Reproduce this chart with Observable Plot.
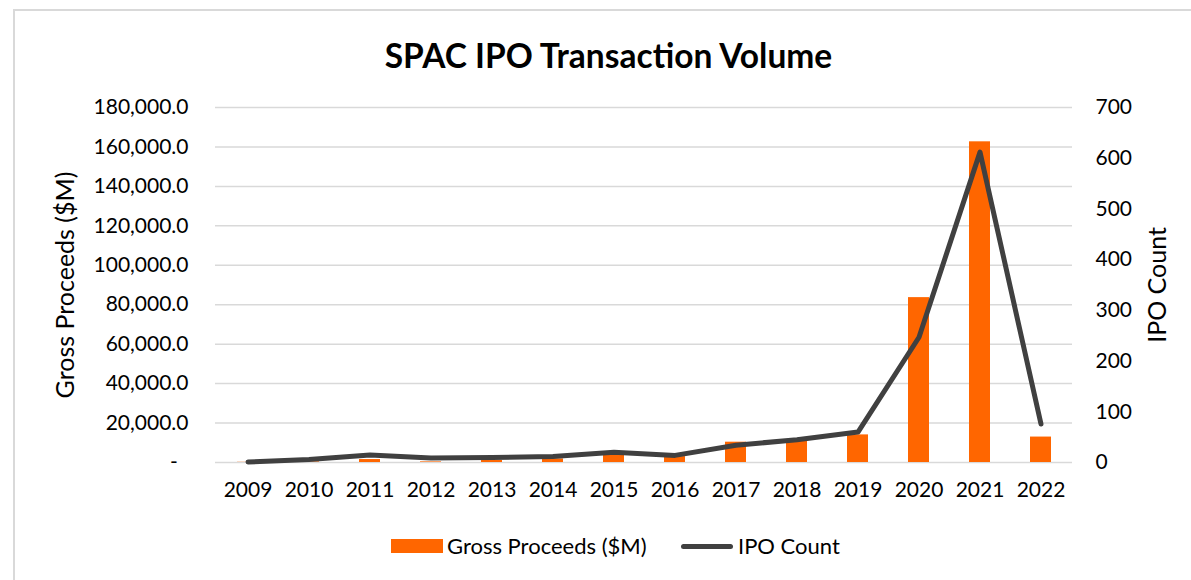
<!DOCTYPE html>
<html>
<head>
<meta charset="utf-8">
<script src="https://cdn.jsdelivr.net/npm/d3@7"></script>
<script src="https://cdn.jsdelivr.net/npm/@observablehq/plot@0.6"></script>
<style>
  html, body { margin: 0; padding: 0; background: #fff; }
  #wrap { position: relative; width: 1191px; height: 580px; overflow: hidden; font-family: Lato, "Noto Sans", sans-serif; color: #000; }
  #frame { position: absolute; left: 13px; top: 9px; width: 1300px; height: 700px; border: 2px solid #d9d9d9; box-sizing: border-box; }
  #title { position: relative; height: 90px; box-sizing: border-box; padding-left: 26px; padding-top: 37px; line-height: 36px; text-align: center; font-weight: 700; font-size: 33.5px; }
  #chart { position: relative; height: 430px; }
  #chart svg { display: block; }
  #legend { position: relative; height: 60px; font-size: 22px; }
  #legend .sw { position: absolute; }
  #legend .lb { position: absolute; top: 26px; transform: translateY(-50%); white-space: nowrap; line-height: 1; }
</style>
</head>
<body>
<div id="wrap">
  <div id="frame"></div>
  <div id="title">SPAC IPO Transaction Volume</div>
  <div id="chart"></div>
  <div id="legend">
    <div class="sw" style="left:391px; top:19px; width:52px; height:14px; background:#ff6600;"></div>
    <div class="lb" style="left:447px;">Gross Proceeds ($M)</div>
    <div class="sw" style="left:681px; top:24px; width:52px; height:5px; background:#404040; border-radius:3px;"></div>
    <div class="lb" style="left:738px;">IPO Count</div>
  </div>
</div>
<script>
const years = ["2009","2010","2011","2012","2013","2014","2015","2016","2017","2018","2019","2020","2021","2022"];
const proceeds = [100, 300, 1500, 300, 1000, 1800, 3600, 3000, 10300, 10700, 14000, 83600, 162600, 12900];
const ipoCount = [1, 6, 15, 9, 10, 12, 20, 14, 34, 45, 60, 247, 612, 76];
const leftTicks = [0, 20000, 40000, 60000, 80000, 100000, 120000, 140000, 160000, 180000];
const rightTicks = [0, 100, 200, 300, 400, 500, 600, 700];
const leftMax = 180000;
const rightMax = 700;
const k = leftMax / rightMax;

const data = years.map((year, i) => ({year, proceeds: proceeds[i], count: ipoCount[i]}));

const chart = Plot.plot({
  width: 1191,
  height: 430,
  marginTop: 17,
  marginBottom: 58,
  marginLeft: 215,
  marginRight: 119,
  style: {fontFamily: "Lato, 'Noto Sans', sans-serif", fontSize: "21px", color: "#000", background: "transparent", overflow: "visible"},
  x: {domain: years, paddingInner: 0.657, paddingOuter: 0.3285, label: null},
  y: {domain: [0, leftMax], label: null},
  marks: [
    Plot.ruleY(leftTicks, {stroke: "#d9d9d9", strokeWidth: 1.5}),
    Plot.barY(data, {x: "year", y: "proceeds", fill: "#ff6600"}),
    Plot.lineY(data, {x: "year", y: d => d.count * k, stroke: "#404040", strokeWidth: 5, strokeLinecap: "round", strokeLinejoin: "round"}),
    Plot.axisX({tickSize: 0, tickPadding: 20, label: null, fill: "#000"}),
    Plot.axisY(leftTicks, {anchor: "left", tickSize: 0, tickPadding: 27, label: null, fill: "#000",
      tickFormat: d => d === 0 ? "-\u00a0\u00a0" : d3.format(",.1f")(d)}),
    Plot.axisY(rightTicks.map(v => v * k), {anchor: "right", tickSize: 0, tickPadding: 23, label: null, fill: "#000",
      tickFormat: d => String(Math.round(d / k))}),
    Plot.text(["Gross Proceeds ($M)"], {frameAnchor: "left", textAnchor: "middle", lineAnchor: "middle", rotate: -90, dx: -150, fontSize: 25, fill: "#000"}),
    Plot.text(["IPO Count"], {frameAnchor: "right", textAnchor: "middle", lineAnchor: "middle", rotate: -90, dx: 85, fontSize: 25, fill: "#000"})
  ]
});
document.getElementById("chart").appendChild(chart);
</script>
</body>
</html>
